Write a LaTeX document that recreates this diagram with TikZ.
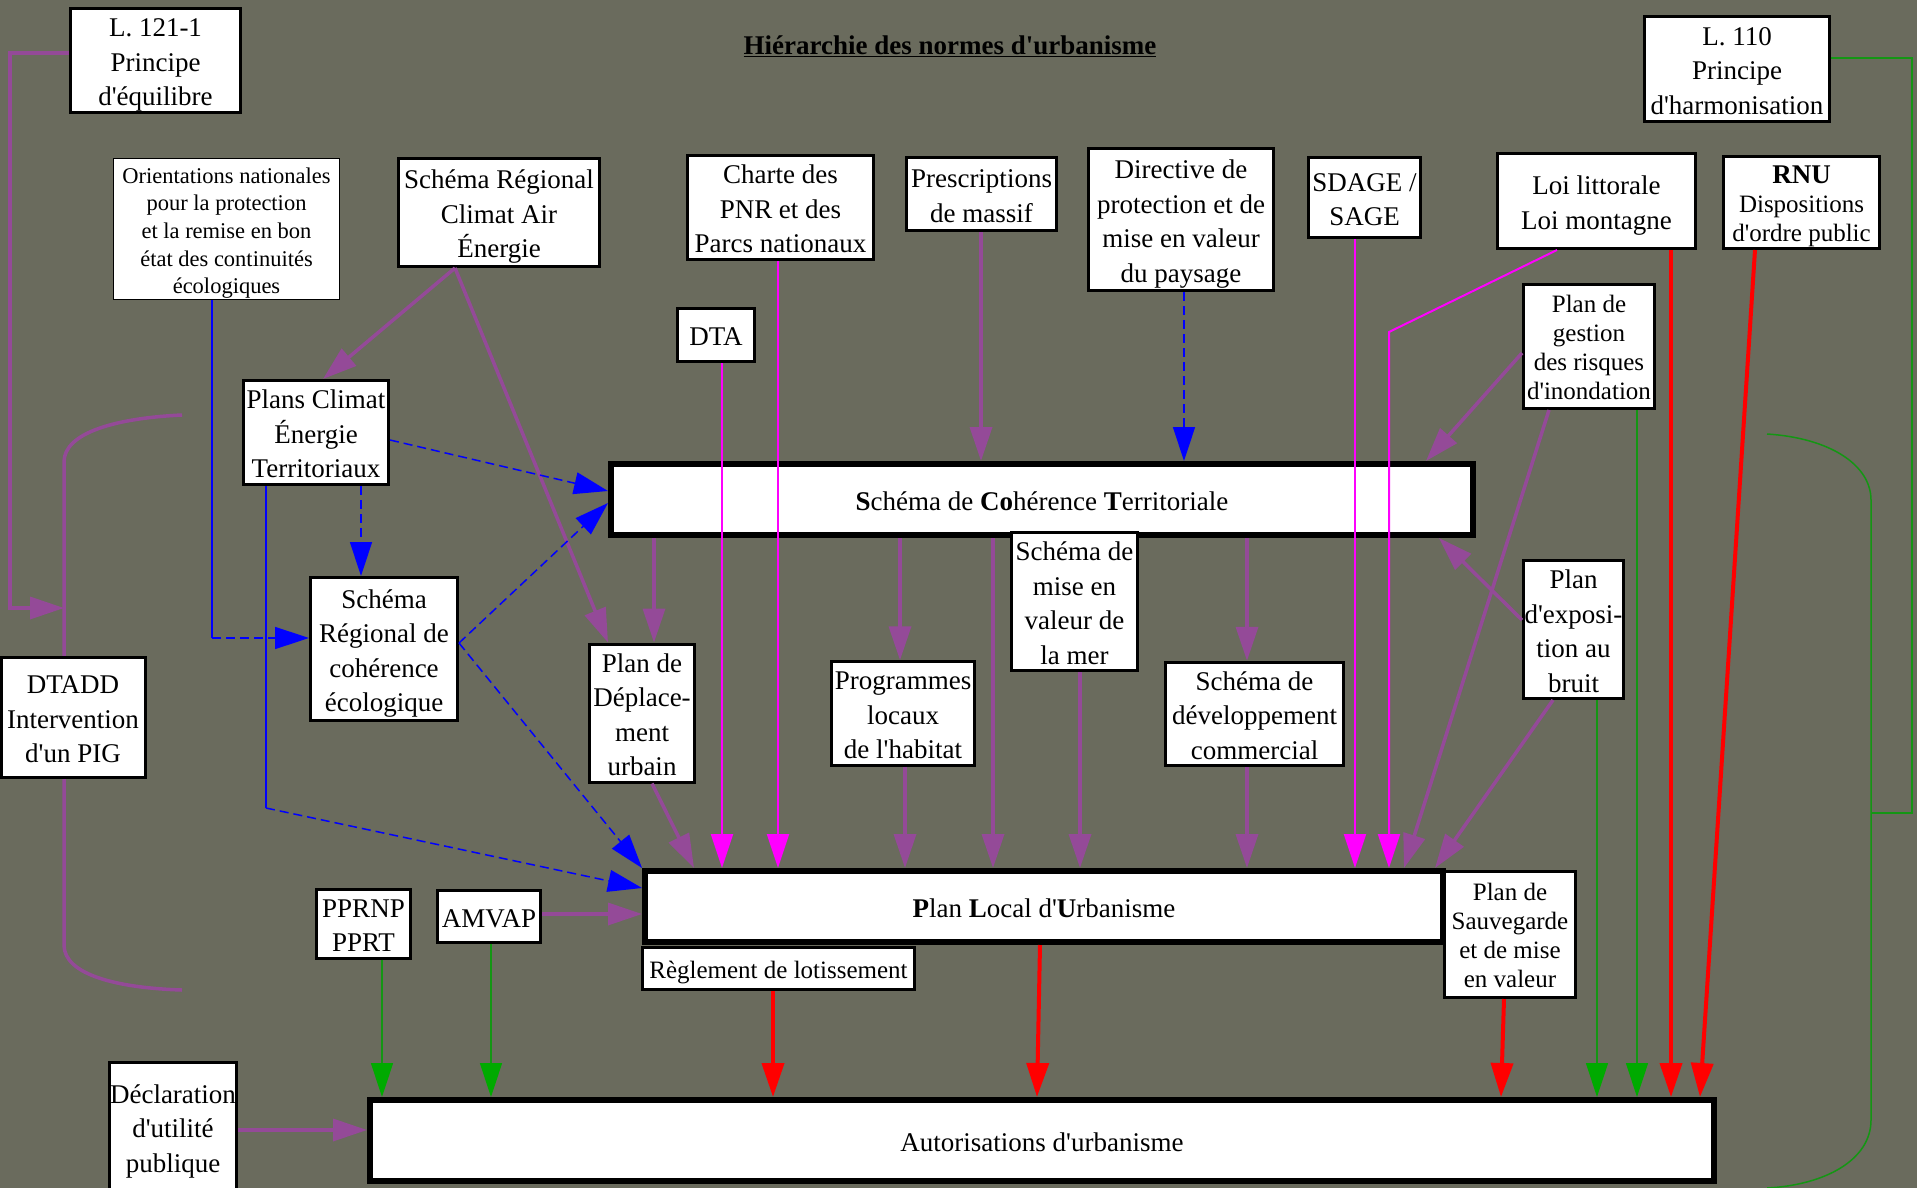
\documentclass[tikz,border=0pt]{standalone}
\usepackage{fontspec}
\setmainfont{Liberation Serif}[Ligatures=TeXOff]
\usetikzlibrary{arrows.meta}
\definecolor{bg}{RGB}{106,107,93}
\definecolor{purp}{RGB}{148,74,152}
\definecolor{mag}{RGB}{255,0,255}
\definecolor{grl}{RGB}{20,150,20}
\definecolor{gra}{RGB}{0,170,0}
\newcommand\tx[1]{\raisebox{-4pt}[\height][\depth]{\begin{tabular}{@{}c@{}}#1\end{tabular}}}
\begin{document}
\begin{tikzpicture}[x=1pt,y=-1pt,
 bx/.style={draw=black,fill=white,line width=3pt,inner sep=0pt,font=\fontsize{27}{34.5}\selectfont},
 bigbx/.style={bx,line width=6pt},
 thinbx/.style={bx,line width=1pt},
 smf/.style={font=\fontsize{25}{29}\selectfont},
 sz/.style 2 args={minimum width=#1pt,minimum height=#2pt},
 arr/.style={-{Triangle[length=34pt,width=22pt]}},
 purl/.style={draw=purp,line width=3.5pt,arr},
 magl/.style={draw=mag,line width=2pt,arr},
 blul/.style={draw=blue,line width=1.5pt,dash pattern=on 9pt off 5pt,arr},
 blus/.style={draw=blue,line width=1.5pt},
 redl/.style={draw=red,line width=4pt,arr},
 grnl/.style={draw=grl,line width=1.5pt,-{Triangle[length=34pt,width=22pt,color=gra]}},
 grns/.style={draw=grl,line width=1.5pt},
]
\fill[bg] (0,0) rectangle (1917,1188);
\useasboundingbox (0,0) rectangle (1917,1188);

% brackets
\draw[purp,line width=3.5pt] (182,415) .. controls (118,418) and (64,432) .. (64,462) -- (64,945) .. controls (64,975) and (118,988) .. (182,990);
\draw[grl,line width=1.5pt] (1767,434) .. controls (1830,438) and (1871,465) .. (1871,500) -- (1871,1120) .. controls (1871,1160) and (1825,1185) .. (1767,1188);

% title
\node (title) at (950,46) {\fontsize{27}{34}\selectfont\underline{\textbf{Hiérarchie des normes d'urbanisme}}};

% nodes
\node[bx,sz={170}{102}] (l121) at (155.5,60.5) {\tx{L. 121-1\\Principe\\d'équilibre}};
\node[thinbx,sz={226}{141},font=\fontsize{22.5}{27.7}\selectfont] (orient) at (226.5,229) {\tx{Orientations nationales\\pour la protection\\et la remise en bon\\état des continuités\\écologiques}};
\node[bx,sz={201}{108}] (srcae) at (499,212.5) {\tx{Schéma Régional\\Climat Air\\Énergie}};
\node[bx,sz={145}{104}] (pcet) at (316,432.5) {\tx{Plans Climat\\Énergie\\Territoriaux}};
\node[bx,sz={147}{143}] (srce) at (384,649) {\tx{Schéma\\Régional de\\cohérence\\écologique}};
\node[bx,sz={144}{120}] (dtadd) at (73,717.5) {\tx{DTADD\\Intervention\\d'un PIG}};
\node[bx,sz={186}{100}] (charte) at (780.5,207.5) {\tx{Charte des\\PNR et des\\Parcs nationaux}};
\node[bx,sz={150}{73}] (presc) at (981.5,194) {\tx{Prescriptions\\de massif}};
\node[bx,sz={185}{142}] (dir) at (1181,219.5) {\tx{Directive de\\protection et de\\mise en valeur\\du paysage}};
\node[bx,sz={77}{53}] (dta) at (716,335) {\tx{DTA}};
\node[bx,sz={112}{80}] (sdage) at (1364.5,197.5) {\tx{SDAGE /\\SAGE}};
\node[bx,sz={198}{95}] (loi) at (1596.5,201) {\tx{Loi littorale\\Loi montagne}};
\node[bx,smf,sz={156}{92}] (rnu) at (1801.5,202.5) {\tx{{\fontsize{27}{29}\selectfont\textbf{RNU}}\\Dispositions\\d'ordre public}};
\node[bx,sz={185}{105}] (l110) at (1737,69) {\tx{L. 110\\Principe\\d'harmonisation}};
\node[bx,smf,sz={131}{124}] (pgri) at (1589,346.5) {\tx{Plan de\\gestion\\des risques\\d'inondation}};
\node[bigbx,sz={862}{71}] (scot) at (1042,499.5) {\tx{\textbf{S}chéma de \textbf{Co}hérence \textbf{T}erritoriale}};
\node[bx,sz={105}{137}] (pdu) at (642,713) {\tx{Plan de\\Déplace-\\ment\\urbain}};
\node[bx,sz={143}{102}] (plh) at (903,713.5) {\tx{Programmes\\locaux\\de l'habitat}};
\node[bx,sz={126}{126}] (smvm) at (1074.5,601.5) {\tx{Schéma de\\mise en\\valeur de\\la mer}};
\node[bx,sz={178}{103}] (sdc) at (1254.5,714) {\tx{Schéma de\\développement\\commercial}};
\node[bx,sz={100}{130}] (peb) at (1573.5,629.5) {\tx{Plan\\d'exposi-\\tion au\\bruit}};
\node[bigbx,sz={798}{71}] (plu) at (1044,906.5) {\tx{\textbf{P}lan \textbf{L}ocal d'\textbf{U}rbanisme}};
\node[bx,smf,sz={131}{126}] (psmv) at (1510,934.5) {\tx{Plan de\\Sauvegarde\\et de mise\\en valeur}};
\node[bx,smf,sz={272}{42}] (regl) at (778.5,968.5) {\tx{Règlement de lotissement}};
\node[bx,sz={94}{66}] (pprnp) at (363.5,923.5) {\tx{PPRNP\\PPRT}};
\node[bx,sz={103}{52}] (amvap) at (489,916.5) {\tx{AMVAP}};
\node[bx,sz={127}{130}] (dup) at (173,1127) {\tx{Déclaration\\d'utilité\\publique}};
\node[bigbx,sz={1344}{81}] (auto) at (1042,1140.5) {\tx{Autorisations d'urbanisme}};

% purple connectors
\draw[purl] (l121.west |- 0,53) -- (10,53) -- (10,608) -- (64,608);
\draw[purl] (srcae.south -| 455,0) -- (pcet.north -| 323,0);
\draw[purl] (srcae.south -| 455,0) -- (pdu.north -| 608,0);
\draw[purl] (scot.south -| 654,0) -- (pdu.north -| 654,0);
\draw[purl] (scot.south -| 900,0) -- (plh.north -| 900,0);
\draw[purl] (scot.south -| 993,0) -- (plu.north -| 993,0);
\draw[purl] (scot.south -| 1247,0) -- (sdc.north -| 1247,0);
\draw[purl] (presc.south -| 981,0) -- (scot.north -| 981,0);
\draw[purl] (pdu.south -| 652,0) -- (plu.north -| 694,0);
\draw[purl] (plh.south -| 905,0) -- (plu.north -| 905,0);
\draw[purl] (smvm.south -| 1080,0) -- (plu.north -| 1080,0);
\draw[purl] (sdc.south -| 1247,0) -- (plu.north -| 1247,0);
\draw[purl] (pgri.west |- 0,353) -- (scot.north -| 1426,0);
\draw[purl] (pgri.south -| 1549,0) -- (plu.north -| 1404,0);
\draw[purl] (peb.west |- 0,620) -- (scot.south -| 1439,0);
\draw[purl] (peb.south -| 1553,0) -- (plu.north -| 1435,0);
\draw[purl] (amvap.east |- 0,914) -- (plu.west |- 0,914);
\draw[purl] (dup.east |- 0,1130) -- (auto.west |- 0,1130);

% magenta connectors
\draw[magl] (dta.south -| 722,0) -- (plu.north -| 722,0);
\draw[magl] (charte.south -| 778,0) -- (plu.north -| 778,0);
\draw[magl] (sdage.south -| 1355,0) -- (plu.north -| 1355,0);
\draw[magl] (loi.south -| 1557,0) -- (1389,332) -- (plu.north -| 1389,0);

% blue connectors
\draw[blul] (dir.south -| 1184,0) -- (scot.north -| 1184,0);
\draw[blul] (pcet.east |- 0,440) -- (scot.west |- 0,491);
\draw[blul] (pcet.south -| 361,0) -- (srce.north -| 361,0);
\draw[blul] (srce.east |- 0,643) -- (scot.west |- 0,503);
\draw[blul] (srce.east |- 0,643) -- (plu.north west);
\coordinate (oj) at (212,638);
\draw[blus] (orient.south -| 212,0) -- (oj);
\draw[blul] (oj) -- (srce.west |- oj);
\coordinate (pj) at (266,808);
\draw[blus] (pcet.south -| 266,0) -- (pj);
\draw[blul] (pj) -- (plu.west |- 0,888);

% red connectors
\draw[redl] (loi.south -| 1671,0) -- (auto.north -| 1671,0);
\draw[redl] (rnu.south -| 1755,0) -- (auto.north -| 1700,0);
\draw[redl] (plu.south -| 1040,0) -- (auto.north -| 1037,0);
\draw[redl] (regl.south -| 773,0) -- (auto.north -| 773,0);
\draw[redl] (psmv.south -| 1504,0) -- (auto.north -| 1501,0);

% green connectors
\draw[grnl] (pprnp.south -| 382,0) -- (auto.north -| 382,0);
\draw[grnl] (amvap.south -| 491,0) -- (auto.north -| 491,0);
\draw[grnl] (peb.south -| 1597,0) -- (auto.north -| 1597,0);
\draw[grnl] (pgri.south -| 1637,0) -- (auto.north -| 1637,0);
\draw[grns] (l110.east |- 0,58) -- (1912,58) -- (1912,813) -- (1871,813);
\end{tikzpicture}
\end{document}
